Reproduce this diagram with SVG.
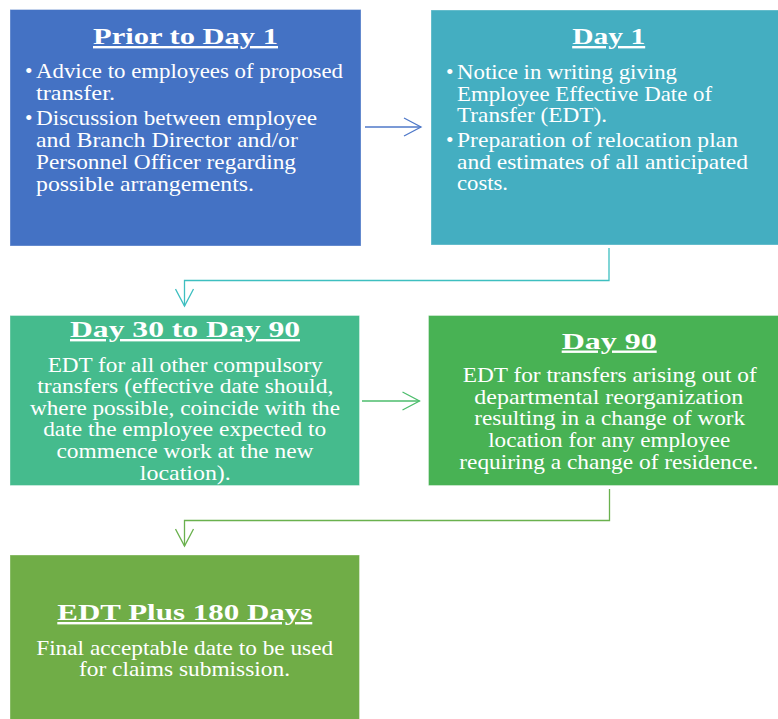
<svg xmlns="http://www.w3.org/2000/svg" width="778" height="719" viewBox="0 0 778 719">
  <style>
    .box { stroke: #ffffff; stroke-opacity: 0.35; stroke-width: 1; }
    .title { font-family: "Liberation Serif", "DejaVu Serif", serif; font-weight: bold; font-size: 24px; fill: #ffffff; text-decoration: underline; }
    .body { font-family: "Liberation Serif", "DejaVu Serif", serif; font-size: 21.5px; fill: #ffffff; }
    .mid { text-anchor: middle; }
    .conn { fill: none; stroke-width: 1.3; }
  </style>
  <defs>
    <marker id="chev-blue" viewBox="0 0 20 20" refX="18" refY="10" markerWidth="20" markerHeight="20" markerUnits="userSpaceOnUse" orient="auto">
      <path d="M1,1 L18,10 L1,19" fill="none" stroke="#4F79C9" stroke-width="1.3"/>
    </marker>
    <marker id="chev-teal" viewBox="0 0 20 20" refX="18" refY="10" markerWidth="20" markerHeight="20" markerUnits="userSpaceOnUse" orient="auto">
      <path d="M1,1 L18,10 L1,19" fill="none" stroke="#3EBFC0" stroke-width="1.3"/>
    </marker>
    <marker id="chev-green" viewBox="0 0 20 20" refX="18" refY="10" markerWidth="20" markerHeight="20" markerUnits="userSpaceOnUse" orient="auto">
      <path d="M1,1 L18,10 L1,19" fill="none" stroke="#4CBD6C" stroke-width="1.3"/>
    </marker>
    <marker id="chev-olive" viewBox="0 0 20 20" refX="18" refY="10" markerWidth="20" markerHeight="20" markerUnits="userSpaceOnUse" orient="auto">
      <path d="M1,1 L18,10 L1,19" fill="none" stroke="#6AB14E" stroke-width="1.3"/>
    </marker>
  </defs>

  <rect width="778" height="719" fill="#ffffff"/>

  <!-- connectors -->
  <g id="connectors">
    <path class="conn" d="M365,127 L421,127" stroke="#4F79C9" marker-end="url(#chev-blue)"/>
    <path class="conn" d="M609,248 L609,280.5 L184.5,280.5 L184.5,306" stroke="#3EBFC0" marker-end="url(#chev-teal)"/>
    <path class="conn" d="M362,401 L419.5,401" stroke="#4CBD6C" marker-end="url(#chev-green)"/>
    <path class="conn" d="M609.5,489 L609.5,520.5 L184.5,520.5 L184.5,546" stroke="#6AB14E" marker-end="url(#chev-olive)"/>
  </g>

  <!-- Prior to Day 1 -->
  <g id="prior-to-day-1">
    <rect class="box" x="10" y="9.5" width="351" height="236.5" fill="#4472C4"/>
    <text class="title mid" x="185.5" y="44" textLength="185" lengthAdjust="spacingAndGlyphs">Prior to Day 1</text>
    <text class="body" x="25" y="78">•</text>
    <text class="body" x="36" y="78" textLength="307" lengthAdjust="spacingAndGlyphs">Advice to employees of proposed</text>
    <text class="body" x="36" y="100" textLength="79" lengthAdjust="spacingAndGlyphs">transfer.</text>
    <text class="body" x="25" y="124.5">•</text>
    <text class="body" x="36" y="124.5" textLength="281" lengthAdjust="spacingAndGlyphs">Discussion between employee</text>
    <text class="body" x="36" y="146.5" textLength="262" lengthAdjust="spacingAndGlyphs">and Branch Director and/or</text>
    <text class="body" x="36" y="168.5" textLength="260" lengthAdjust="spacingAndGlyphs">Personnel Officer regarding</text>
    <text class="body" x="36" y="190.5" textLength="218" lengthAdjust="spacingAndGlyphs">possible arrangements.</text>
  </g>

  <!-- Day 1 -->
  <g id="day-1">
    <rect class="box" x="431" y="10" width="360" height="235" fill="#44AEC1"/>
    <text class="title mid" x="608.7" y="44" textLength="73" lengthAdjust="spacingAndGlyphs">Day 1</text>
    <text class="body" x="446" y="79">•</text>
    <text class="body" x="457" y="79" textLength="220" lengthAdjust="spacingAndGlyphs">Notice in writing giving</text>
    <text class="body" x="457" y="100.5" textLength="255" lengthAdjust="spacingAndGlyphs">Employee Effective Date of</text>
    <text class="body" x="457" y="122" textLength="150" lengthAdjust="spacingAndGlyphs">Transfer (EDT).</text>
    <text class="body" x="446" y="146.5">•</text>
    <text class="body" x="457" y="146.5" textLength="281" lengthAdjust="spacingAndGlyphs">Preparation of relocation plan</text>
    <text class="body" x="457" y="168.5" textLength="291" lengthAdjust="spacingAndGlyphs">and estimates of all anticipated</text>
    <text class="body" x="457" y="190" textLength="51" lengthAdjust="spacingAndGlyphs">costs.</text>
  </g>

  <!-- Day 30 to Day 90 -->
  <g id="day-30-to-day-90">
    <rect class="box" x="10" y="315.5" width="349.5" height="170" fill="#45BB8D"/>
    <text class="title mid" x="185" y="337" textLength="230" lengthAdjust="spacingAndGlyphs">Day 30 to Day 90</text>
    <text class="body mid" x="185.2" y="372" textLength="275" lengthAdjust="spacingAndGlyphs">EDT for all other compulsory</text>
    <text class="body mid" x="185.3" y="393" textLength="296" lengthAdjust="spacingAndGlyphs">transfers (effective date should,</text>
    <text class="body mid" x="185" y="414.5" textLength="310" lengthAdjust="spacingAndGlyphs">where possible, coincide with the</text>
    <text class="body mid" x="184.7" y="436" textLength="283" lengthAdjust="spacingAndGlyphs">date the employee expected to</text>
    <text class="body mid" x="185" y="458" textLength="257" lengthAdjust="spacingAndGlyphs">commence work at the new</text>
    <text class="body mid" x="185.3" y="479.5" textLength="91" lengthAdjust="spacingAndGlyphs">location).</text>
  </g>

  <!-- Day 90 -->
  <g id="day-90">
    <rect class="box" x="428.5" y="315.5" width="362" height="170" fill="#48B254"/>
    <text class="title mid" x="609.2" y="348.5" textLength="95" lengthAdjust="spacingAndGlyphs">Day 90</text>
    <text class="body mid" x="609.7" y="382" textLength="294" lengthAdjust="spacingAndGlyphs">EDT for transfers arising out of</text>
    <text class="body mid" x="608.8" y="403.5" textLength="269" lengthAdjust="spacingAndGlyphs">departmental reorganization</text>
    <text class="body mid" x="609.7" y="425" textLength="271" lengthAdjust="spacingAndGlyphs">resulting in a change of work</text>
    <text class="body mid" x="609.2" y="446.5" textLength="242" lengthAdjust="spacingAndGlyphs">location for any employee</text>
    <text class="body mid" x="608.8" y="468.5" textLength="299" lengthAdjust="spacingAndGlyphs">requiring a change of residence.</text>
  </g>

  <!-- EDT Plus 180 Days -->
  <g id="edt-plus-180-days">
    <rect class="box" x="10" y="555" width="349.5" height="170" fill="#70AD47"/>
    <text class="title mid" x="184.8" y="620" textLength="255" lengthAdjust="spacingAndGlyphs">EDT Plus 180 Days</text>
    <text class="body mid" x="184.7" y="655" textLength="297" lengthAdjust="spacingAndGlyphs">Final acceptable date to be used</text>
    <text class="body mid" x="184.5" y="675.5" textLength="211" lengthAdjust="spacingAndGlyphs">for claims submission.</text>
  </g>
</svg>
